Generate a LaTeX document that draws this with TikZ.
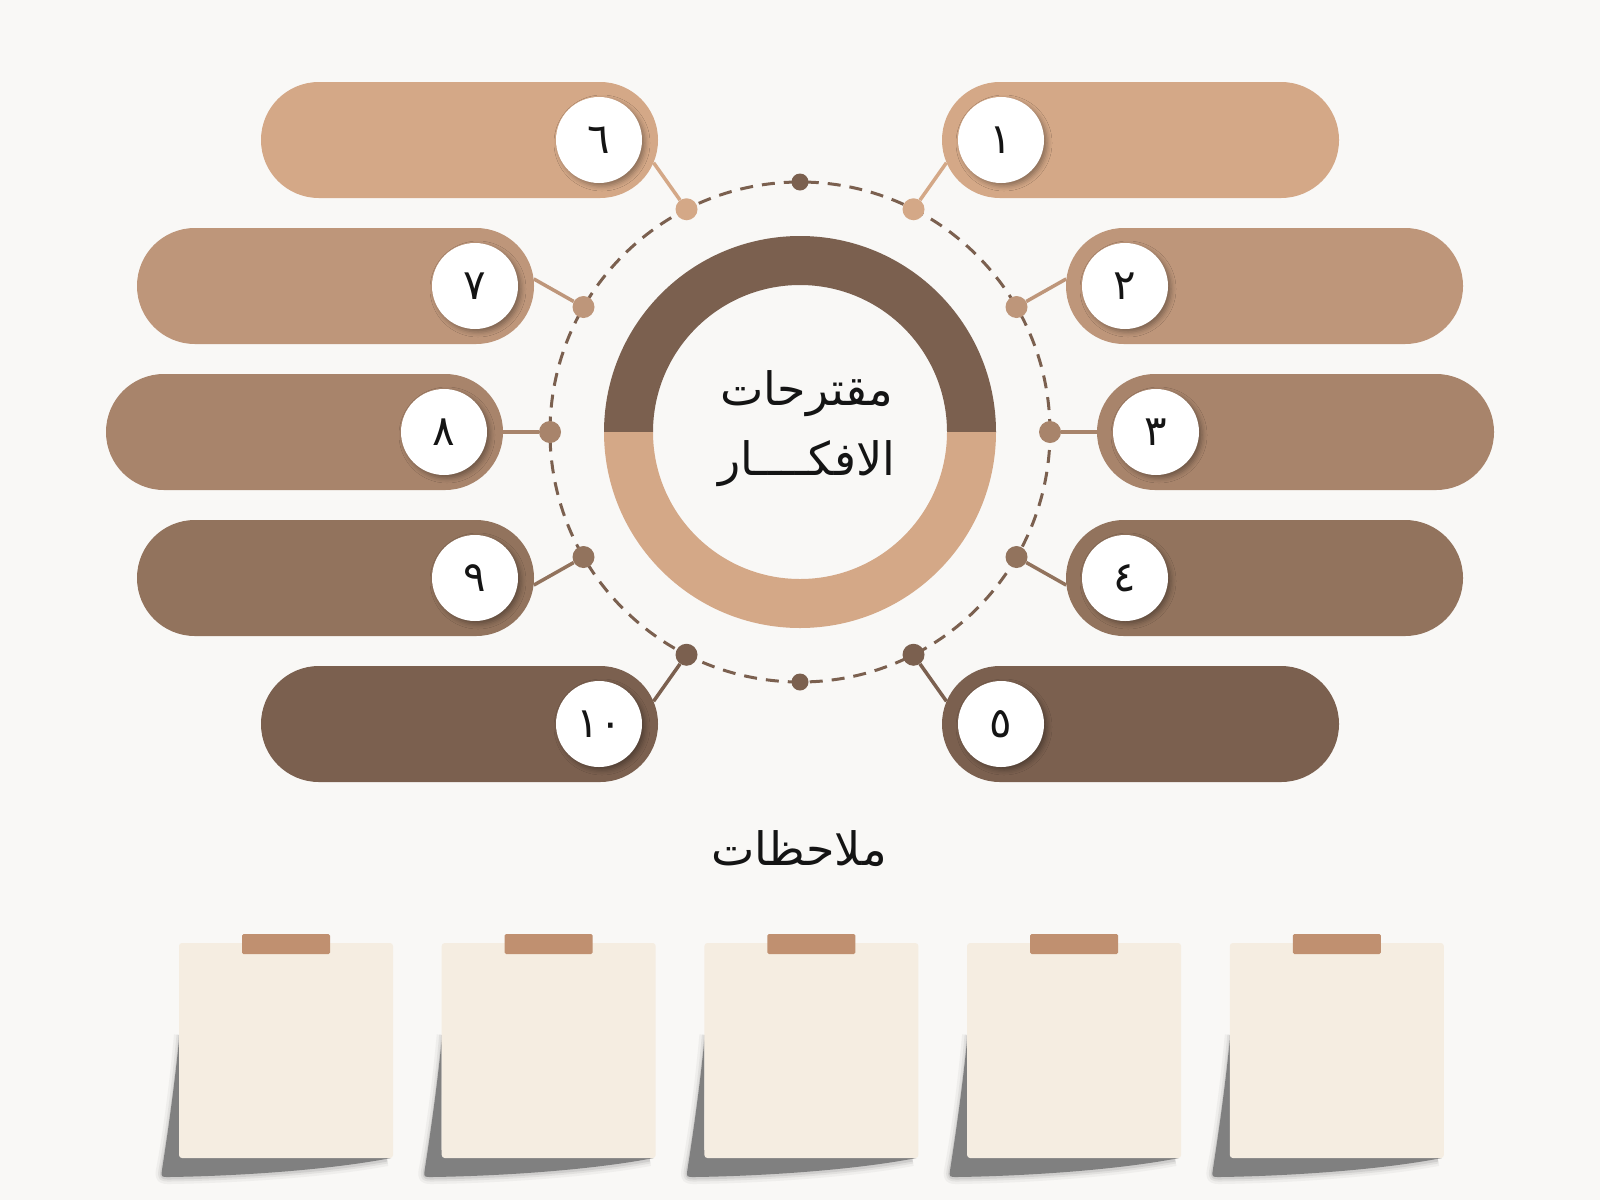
\documentclass[tikz,border=0pt]{standalone}
\usepackage{fontspec}
\newfontfamily\arabicfont[Script=Arabic]{DejaVu Sans}
\TeXXeTstate=1
\usetikzlibrary{shadows.blur}
\definecolor{bg}{RGB}{249,248,246}
\definecolor{cA}{RGB}{212,168,135}
\definecolor{cB}{RGB}{190,150,122}
\definecolor{cC}{RGB}{168,132,107}
\definecolor{cD}{RGB}{146,115,93}
\definecolor{cE}{RGB}{123,96,79}
\definecolor{noteC}{RGB}{245,237,225}
\definecolor{tapeC}{RGB}{192,144,112}
\definecolor{shadowC}{RGB}{128,128,128}
\definecolor{inkC}{RGB}{20,20,20}
\begin{document}
\begin{tikzpicture}[x=1pt,y=-1pt,
  ringnode/.style={circle, minimum size=116pt, inner sep=0pt},
  numcircle/.style={circle, fill=white, minimum size=86pt, inner sep=0pt, text=inkC,
    font=\arabicfont\fontsize{42}{46}\selectfont,
    blur shadow={shadow xshift=3pt, shadow yshift=-3pt, shadow blur radius=5pt, shadow opacity=35}},
  bigdot/.style={circle, minimum size=22pt, inner sep=0pt},
  smalldot/.style={circle, fill=cE, minimum size=17pt, inner sep=0pt},
  link/.style={line width=3.5pt},
  orbit/.style={draw=cE, line width=3pt, dash pattern=on 13pt off 9pt},
  bigtext/.style={text=inkC, font=\arabicfont\fontsize{46}{52}\selectfont, inner sep=0pt},
  notebox/.style={fill=noteC, minimum width=214pt, minimum height=215pt, rounded corners=3pt, inner sep=0pt},
  tapebox/.style={fill=tapeC, minimum width=88pt, minimum height=20pt, rounded corners=1.5pt, inner sep=0pt}
]
\useasboundingbox (0,0) rectangle (1600,1200);
\fill[bg] (0,0) rectangle (1600,1200);

% dashed orbit
\node[circle, minimum size=500pt, inner sep=0pt, orbit] (orbit) at (800,432) {};

% right pills
\foreach \i/\cx/\y/\col/\ang/\a/\num in {1/1000/140/cA/203/63/١, 2/1124/286/cB/173/30/٢, 3/1155/432/cC/180/0/٣, 4/1124/578/cD/187/-30/٤, 5/1000/724/cE/157/-63/٥}{
  \fill[\col, rounded corners=57.9pt] (\cx-58,\y-58) rectangle (\cx+339,\y+58);
  \node[ringnode] (r\i) at (\cx,\y) {};
  \node[bigdot, fill=\col] (d\i) at ({800+250*cos(\a)},{432-250*sin(\a)}) {};
  \draw[link, \col] (d\i) -- (r\i.\ang);
  \node[numcircle] (n\i) at (\cx+1,\y) {\num};
}
% left pills
\foreach \i/\cx/\y/\col/\ang/\a in {6/600/140/cA/337/63, 7/476/286/cB/7/30, 8/445/432/cC/0/0, 9/476/578/cD/353/-30, 10/600/724/cE/23/-63}{
  \fill[\col, rounded corners=57.9pt] (\cx-339,\y-58) rectangle (\cx+58,\y+58);
  \node[ringnode] (r\i) at (\cx,\y) {};
  \node[bigdot, fill=\col] (d\i) at ({800-250*cos(\a)},{432-250*sin(\a)}) {};
  \draw[link, \col] (d\i) -- (r\i.\ang);
}
\node[numcircle] (n6) at (599,140) {٦};
\node[numcircle] (n7) at (475,286) {٧};
\node[numcircle] (n8) at (444,432) {٨};
\node[numcircle] (n9) at (475,578) {٩};
\node[numcircle] (n10) at (599,724) {١٠};

\node[smalldot] (dtop) at (800,182) {};
\node[smalldot] (dbot) at (800,682) {};

% central ring
\fill[cE] (996,432) arc[start angle=0, end angle=-180, radius=196] -- (653,432) arc[start angle=-180, end angle=0, radius=147] -- cycle;
\fill[cA] (996,432) arc[start angle=0, end angle=180, radius=196] -- (653,432) arc[start angle=180, end angle=0, radius=147] -- cycle;

\node[bigtext, anchor=base] (title1) at (807,405) {\beginR مقترحات\endR};
\node[bigtext, anchor=base] (title2) at (807,475) {\beginR الافكــــار\endR};

\node[bigtext, anchor=base] (notes) at (799,865) {\beginR ملاحظات\endR};

% sticky notes
\foreach \k in {0,...,4}{
  \pgfmathsetmacro\nx{179+262.7*\k}
  \foreach \w/\o in {14/0.08, 9/0.12, 5/0.18}{
    \draw[shadowC, opacity=\o, line width=\w pt, line join=round]
      (\nx+2,1035) .. controls (\nx-4,1100) and (\nx-12,1150) .. (\nx-16,1170)
      .. controls (\nx-17,1177) .. (\nx-9,1177)
      .. controls (\nx+60,1176) and (\nx+150,1170) .. (\nx+208,1159);
  }
  \fill[shadowC]
    (\nx,1040) .. controls (\nx-6,1100) and (\nx-14,1150) .. (\nx-17,1170)
    .. controls (\nx-18,1177) .. (\nx-10,1177)
    .. controls (\nx+60,1176) and (\nx+150,1170) .. (\nx+212,1158)
    -- (\nx+100,1150) -- (\nx,1150) -- cycle;
  \node[notebox] (note\k) at (\nx+107,1050.5) {};
  \node[tapebox] (tape\k) at (\nx+107,944) {};
}
\end{tikzpicture}
\end{document}
